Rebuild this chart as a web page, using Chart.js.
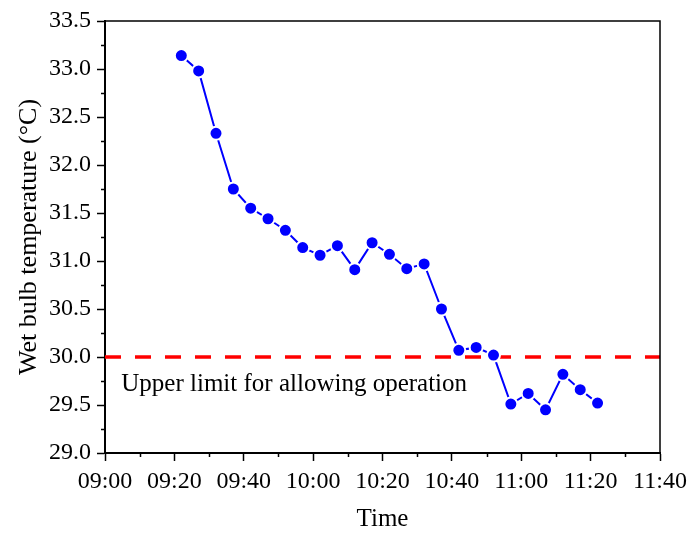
<!DOCTYPE html>
<html>
<head>
<meta charset="utf-8">
<script src="https://cdn.jsdelivr.net/npm/chart.js@4.4.1/dist/chart.umd.min.js"></script>
<style>
  html, body { margin: 0; padding: 0; background: #fff; }
  #wrap { width: 691px; height: 534px; position: relative; }
</style>
</head>
<body>
<div id="wrap"><canvas id="c" width="691" height="534"></canvas></div>
<script>
// Sampling times (minutes after 09:00) and wet bulb temperature readings
const sampleMinutes = [22, 27, 32, 37, 42, 47, 52, 57, 62, 67, 72, 77, 82, 87, 92, 97, 102, 107, 112, 117, 122, 127, 132, 137, 142];
const wetBulbTemp = [33.14, 32.98, 32.33, 31.75, 31.55, 31.44, 31.32, 31.14, 31.06, 31.16, 30.91, 31.19, 31.07, 30.92, 30.97, 30.50, 30.07, 30.10, 30.02, 29.51, 29.62, 29.45, 29.82, 29.66, 29.52];

// Operating limit
const upperLimit = 30.0;
const limitLabel = 'Upper limit for allowing operation';

// Axis ranges and tick labels
const xRange = [0, 160];
const xStep = 20;
const xTickLabels = ['09:00', '09:20', '09:40', '10:00', '10:20', '10:40', '11:00', '11:20', '11:40'];
const yRange = [29.0, 33.5];
const yStep = 0.5;

const FONT = '"Liberation Serif", "Times New Roman", serif';

// Minor ticks, plot frame and the limit label
const framePlugin = {
  id: 'frame',
  afterDraw(chart) {
    const { ctx, chartArea: a, scales: { x, y } } = chart;
    ctx.save();
    ctx.strokeStyle = '#000';
    ctx.lineWidth = 1.5;
    // top and right edges
    ctx.beginPath();
    ctx.moveTo(a.left, a.top);
    ctx.lineTo(a.right, a.top);
    ctx.lineTo(a.right, a.bottom);
    ctx.stroke();
    // minor ticks
    ctx.beginPath();
    for (let v = xRange[0] + xStep / 2; v < xRange[1]; v += xStep) {
      const px = Math.round(x.getPixelForValue(v)) + 0.5;
      ctx.moveTo(px, a.bottom);
      ctx.lineTo(px, a.bottom + 4);
    }
    for (let v = yRange[0] + yStep / 2; v < yRange[1]; v += yStep) {
      const py = Math.round(y.getPixelForValue(v)) + 0.5;
      ctx.moveTo(a.left, py);
      ctx.lineTo(a.left - 4, py);
    }
    ctx.stroke();
    // limit annotation
    ctx.fillStyle = '#000';
    ctx.font = '25px ' + FONT;
    ctx.textAlign = 'left';
    ctx.textBaseline = 'alphabetic';
    ctx.fillText(limitLabel, x.getPixelForValue(4.7), y.getPixelForValue(29.65));
    ctx.restore();
  }
};

new Chart(document.getElementById('c'), {
  type: 'line',
  data: {
    datasets: [
      {
        label: 'Upper limit',
        data: [{ x: xRange[0], y: upperLimit }, { x: xRange[1], y: upperLimit }],
        borderColor: '#ff0000',
        borderWidth: 3.5,
        borderDash: [16, 14],
        pointRadius: 0,
        order: 2
      },
      {
        label: 'Wet bulb temperature',
        data: sampleMinutes.map((m, i) => ({ x: m, y: wetBulbTemp[i] })),
        borderColor: '#0000ff',
        backgroundColor: '#0000ff',
        borderWidth: 2,
        pointRadius: 6.5,
        pointBackgroundColor: '#0000ff',
        pointBorderColor: '#ffffff',
        pointBorderWidth: 2,
        tension: 0,
        order: 1
      }
    ]
  },
  options: {
    responsive: false,
    animation: false,
    layout: { padding: { top: 21, right: 31, left: 0, bottom: 0 } },
    plugins: { legend: { display: false }, tooltip: { enabled: false } },
    scales: {
      x: {
        type: 'linear',
        min: xRange[0],
        max: xRange[1],
        afterFit(s) { s.height = 81; s.paddingRight = 0; },
        ticks: {
          stepSize: xStep,
          color: '#000',
          padding: 6,
          maxRotation: 0,
          font: { family: FONT, size: 24 },
          callback: (v) => xTickLabels[Math.round((v - xRange[0]) / xStep)]
        },
        grid: { drawOnChartArea: false, drawTicks: true, tickLength: 8, tickColor: '#000', tickWidth: 1.5 },
        border: { display: true, color: '#000', width: 2 },
        title: {
          display: true,
          text: 'Time',
          color: '#000',
          font: { family: FONT, size: 25 },
          padding: { top: 0, bottom: 0 }
        }
      },
      y: {
        type: 'linear',
        min: yRange[0],
        max: yRange[1],
        afterFit(s) { s.width = 105; },
        ticks: {
          stepSize: yStep,
          color: '#000',
          padding: 6,
          font: { family: FONT, size: 24 },
          callback: (v) => Number(v).toFixed(1)
        },
        grid: { drawOnChartArea: false, drawTicks: true, tickLength: 8, tickColor: '#000', tickWidth: 1.5 },
        border: { display: true, color: '#000', width: 2 },
        title: {
          display: true,
          text: 'Wet bulb temperature (°C)',
          color: '#000',
          font: { family: FONT, size: 26 },
          padding: { top: 14, bottom: 0 }
        }
      }
    }
  },
  plugins: [framePlugin]
});
</script>
</body>
</html>
